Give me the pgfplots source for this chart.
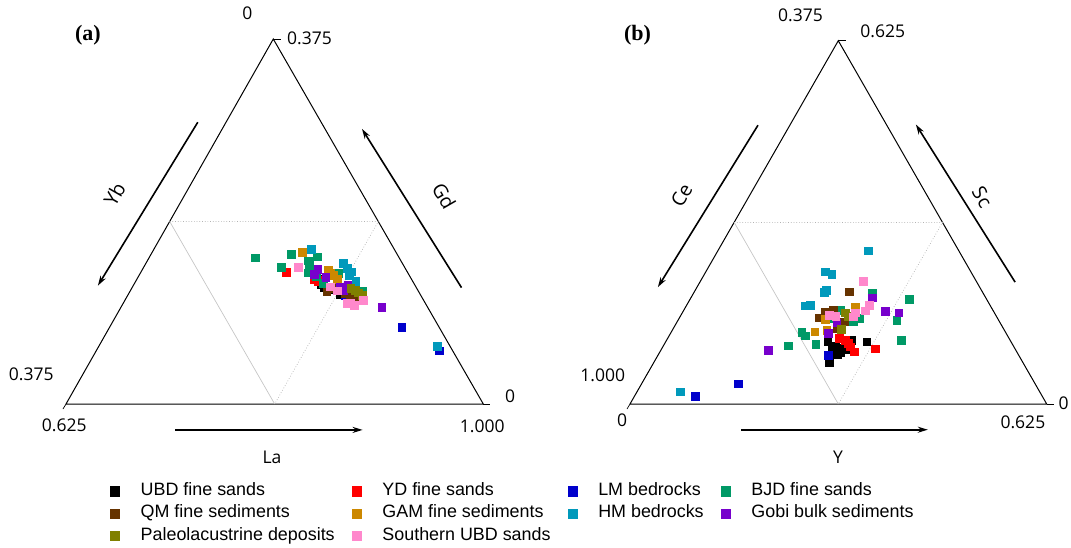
\documentclass[border=0pt]{standalone}
\usepackage{pgfplots}
\pgfplotsset{compat=1.18}
\usetikzlibrary{arrows.meta}
\usepackage{fontspec}
\setmainfont{Liberation Sans}
\newfontfamily\labfont{Open Sans}
\newfontfamily\tagfont{Liberation Serif}

\definecolor{cUBD}{RGB}{0,0,0}
\definecolor{cYD}{RGB}{255,0,0}
\definecolor{cLM}{RGB}{0,0,204}
\definecolor{cBJD}{RGB}{0,153,102}
\definecolor{cQM}{RGB}{102,51,0}
\definecolor{cGAM}{RGB}{204,136,0}
\definecolor{cHM}{RGB}{0,153,187}
\definecolor{cGobi}{RGB}{119,0,204}
\definecolor{cPal}{RGB}{128,128,0}
\definecolor{cSUBD}{RGB}{255,136,204}

\tikzset{
  lab/.style={font=\labfont\fontsize{17.5}{20}\selectfont},
  rlab/.style={font=\labfont\fontsize{19.5}{22}\selectfont},
  tag/.style={font=\tagfont\bfseries\fontsize{22}{24}\selectfont},
}

\begin{document}
\begin{tikzpicture}
\begin{axis}[
  width=1071pt, height=547pt, scale only axis,
  xmin=0, xmax=1071, ymin=0, ymax=547, y dir=reverse,
  axis lines=none, clip=false,
  legend columns=4, legend cell align=left,
  legend style={at={(axis cs:110,480)}, anchor=north west, draw=none, fill=none,
    inner sep=0pt, outer sep=0pt,
    font=\fontsize{17.9}{20}\selectfont,
    nodes={text height=14pt, text depth=5pt, inner xsep=0pt, inner ysep=1.65pt},
    /tikz/every even column/.append style={column sep=17pt}},
  legend image code/.code={\draw[#1, mark size=4.6pt] plot coordinates {(0pt,0pt)};
    \path[draw=none, fill=none] (-5pt,0pt) rectangle (25.7pt,0.1pt);},
  pts/.style={only marks, mark=square*, mark size=3.8pt, mark options={draw=#1, fill=#1}},
  tri/.style={black, line width=1pt, forget plot},
  arr/.style={-{Stealth[length=10pt,width=6pt]}, line width=1.6pt, forget plot},
]
% triangles
\addplot[tri] coordinates {(66,404) (273.3,39) (483.3,404) (66,404)};
\addplot[tri] coordinates {(630,404) (838.3,40.7) (1046.7,404) (630,404)};
% vertex ticks
\addplot[tri, line width=0.7pt] coordinates {(273.3,39) (281,39)};
\addplot[tri, line width=0.7pt] coordinates {(483.3,404) (490,404)};
\addplot[tri, line width=0.7pt] coordinates {(66,404) (63,409)};
\addplot[tri, line width=0.7pt] coordinates {(838.3,40.7) (846,40.7)};
\addplot[tri, line width=0.7pt] coordinates {(1046.7,404) (1054,404)};
\addplot[tri, line width=0.7pt] coordinates {(630,404) (627,409)};
% inner triangles
\addplot[gray!45, line width=0.7pt, forget plot] coordinates {(169.7,221.5) (274.7,404)};
\addplot[gray!60, line width=0.7pt, dotted, forget plot] coordinates {(169.7,221.5) (378.3,221.5) (274.7,404)};
\addplot[gray!45, line width=0.7pt, forget plot] coordinates {(734.2,222.4) (838.3,404)};
\addplot[gray!60, line width=0.7pt, dotted, forget plot] coordinates {(734.2,222.4) (942.5,222.4) (838.3,404)};
% arrows
\addplot[arr] coordinates {(175.3,429.9) (362.6,429.9)};
\addplot[arr] coordinates {(197.8,122.2) (97.9,285.6)};
\addplot[arr] coordinates {(461.5,287.6) (362,128.9)};
\addplot[arr] coordinates {(741.1,429.7) (927.8,429.7)};
\addplot[arr] coordinates {(758,125.2) (657.9,287.1)};
\addplot[arr] coordinates {(1015.1,282.1) (915.9,124.5)};

% data (panel a and panel b points)
\addplot[pts=cUBD] coordinates {
(318,279) (321,284) (324,287) (340,294) (329,289)
(827.7,341.7) (851,340) (866.7,341.7) (831.7,350) (837.3,354.3) (841,348.3)
(845.7,349.3) (829.3,362.3) (835,346) (840,352)};
\addlegendentry{UBD fine sands}
\addplot[pts=cYD] coordinates {
(286,272) (314,279) (318,281) (321,280)
(839.3,338.3) (845,340) (850,346.7) (854,351.7) (875.3,348.7) (848,343)};
\addlegendentry{YD fine sands}
\addplot[pts=cLM] coordinates {
(345,295) (401.7,327.3) (439.3,350.7)
(828.3,355) (738.3,383.7) (695,396)};
\addlegendentry{LM bedrocks}
\addplot[pts=cBJD] coordinates {
(255,257.7) (291,254) (317.3,256.7) (308.3,260.7) (281,267.3) (309.3,265)
(308.3,272.7) (338.3,273.3) (323.3,283.3) (362.7,290.7) (316,276)
(872.3,293.3) (909,299.3) (840,310) (896.7,320) (859.3,318.3) (853.3,321.7)
(801.7,332.3) (805,335.7) (815.7,344) (788.3,345.7) (901,340) (828,318)};
\addlegendentry{BJD fine sands}
\addplot[pts=cQM] coordinates {
(326.7,291.7) (333.3,288.3) (350,295) (356.7,298.3) (345,293) (360,296)
(849,291.7) (825,311.7) (833.3,310) (819,317.7) (844,321.7) (836.7,328.3)};
\addlegendentry{QM fine sediments}
\addplot[pts=cGAM] coordinates {
(302.3,252) (328.3,270) (333.3,275) (337.3,279.3) (330,273)
(855,306.7) (825,319.3) (814.7,331.7) (826.7,330)};
\addlegendentry{GAM fine sediments}
\addplot[pts=cHM] coordinates {
(311,249.3) (343.3,263.3) (347.3,268.3) (351.7,271.7) (355.7,281) (349,275) (437.3,346)
(868.3,250.7) (825,271.7) (831.7,274) (824.3,292.3) (826,290) (805,305.7) (810,305.3) (680,391.6)};
\addlegendentry{HM bedrocks}
\addplot[pts=cGobi] coordinates {
(317.7,269.3) (314,274) (325.7,277.3) (340,286.7) (347.7,285) (381.7,307.3) (343,290)
(872.3,297.7) (885,311.3) (898.7,312.7) (836.7,322.7) (828.3,333.3) (768,350)};
\addlegendentry{Gobi bulk sediments}
\addplot[pts=cPal] coordinates {
(350.7,288.3) (358.3,292.7) (355,290) (362,295)
(845,312.7) (841,329.3) (848,316)};
\addlegendentry{Paleolacustrine deposits}
\addplot[pts=cSUBD] coordinates {
(298.3,267.3) (330,286.7) (337.3,290.7) (346.7,303.3) (354.3,305) (363.3,300) (350,303)
(863.3,281) (869.3,305) (865,310.7) (829.3,315) (835.7,316) (855,312.7) (853.3,316.7)};
\addlegendentry{Southern UBD sands}

% labels panel (a)
\node[tag] at (axis cs:87.9,35) {(a)};
\node[lab] at (axis cs:247.5,13.2) {0};
\node[lab] at (axis cs:309.5,38.3) {0.375};
\node[lab] at (axis cs:31.3,373.8) {0.375};
\node[lab] at (axis cs:64.3,425.2) {0.625};
\node[lab] at (axis cs:482.3,426.5) {1.000};
\node[lab] at (axis cs:510,396.3) {0};
\node[lab] at (axis cs:272,457) {La};
\node[rlab, rotate=60] at (axis cs:114.6,194.3) {Yb};
\node[rlab, rotate=-60] at (axis cs:444.1,196) {Gd};
% labels panel (b)
\node[tag] at (axis cs:637.5,35.7) {(b)};
\node[lab] at (axis cs:800.5,15) {0.375};
\node[lab] at (axis cs:882.7,31.7) {0.625};
\node[lab] at (axis cs:602.8,375.6) {1.000};
\node[lab] at (axis cs:622.2,420.7) {0};
\node[lab] at (axis cs:1022.9,422.3) {0.625};
\node[lab] at (axis cs:1063.7,403.3) {0};
\node[lab] at (axis cs:838,457) {Y};
\node[rlab, rotate=60] at (axis cs:681.6,195.3) {Ce};
\node[rlab, rotate=-60] at (axis cs:982.2,197) {Sc};
\end{axis}
\pgfresetboundingbox
\path (0,0) rectangle (1071pt,547pt);
\end{tikzpicture}
\end{document}
